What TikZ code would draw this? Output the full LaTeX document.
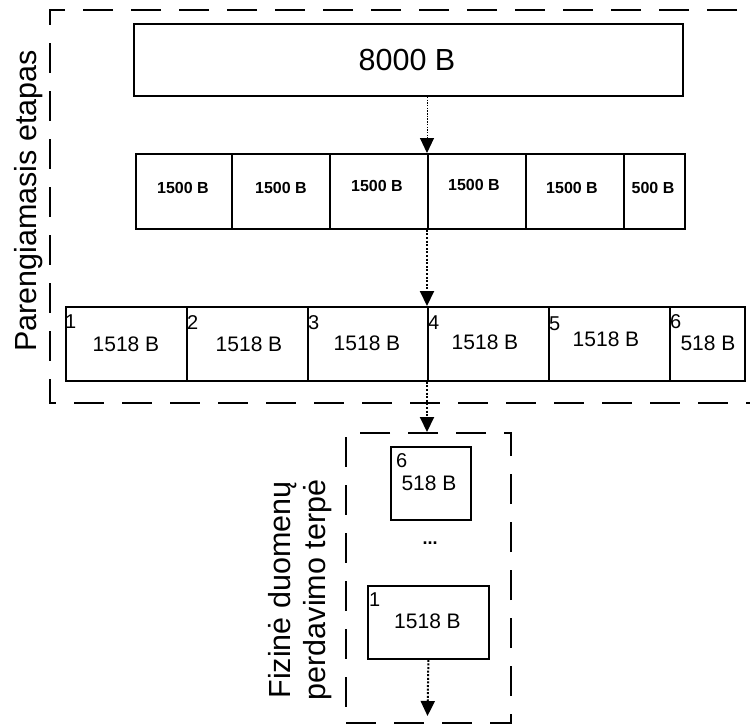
\documentclass[tikz,border=0pt]{standalone}
\usepackage{fontspec}
\setmainfont{Liberation Sans}
\usetikzlibrary{arrows.meta}
\begin{document}
\begin{tikzpicture}[x=1pt,y=-1pt,
  cell/.style={draw=black, line width=1.8pt, inner sep=0pt, anchor=north west},
  txt/.style={inner sep=0pt},
  bigfont/.style={font=\fontsize{30.5}{36}\selectfont},
  midfont/.style={font=\fontsize{21}{25}\selectfont},
  boldfont/.style={font=\fontsize{16}{19}\selectfont\bfseries},
  numfont/.style={font=\fontsize{20}{24}\selectfont, inner sep=0pt, anchor=base west},
  dashbox/.style={draw=black, line width=2.3pt, dash pattern=on 30pt off 18pt},
  thinarrow/.style={draw=black, line width=1pt, dash pattern=on 1.5pt off 1.2pt, -{Triangle[length=15pt,width=14pt]}},
  thickarrow/.style={draw=black, line width=2pt, dash pattern=on 2pt off 1.6pt, -{Triangle[length=15pt,width=14pt]}}
]
\useasboundingbox (0,0) rectangle (750,724);

% outer dashed frame (preparation stage)
\coordinate (ftr) at (770,10);
\coordinate (ftl) at (50,10);
\coordinate (fbl) at (50,403);
\coordinate (fbr) at (770,403);
\draw[dashbox, dash phase=15pt] (ftr) -- (ftl) -- (fbl) -- (fbr);

\node[txt, bigfont, rotate=90, anchor=base] (lprep) at (36,201) {Parengiamasis etapas};

% 8000 B block
\node[cell, minimum width=549pt, minimum height=72pt] (n8000) at (133,23) {};
\node[txt, bigfont] (t8000) at (407,60) {8000 B};

% row 2
\node[cell, minimum width=96pt, minimum height=75pt] (r2c1) at (135,153) {};
\node[cell, minimum width=98pt, minimum height=75pt] (r2c2) at (231,153) {};
\node[cell, minimum width=98pt, minimum height=75pt] (r2c3) at (329,153) {};
\node[cell, minimum width=98pt, minimum height=75pt] (r2c4) at (427,153) {};
\node[cell, minimum width=98pt, minimum height=75pt] (r2c5) at (525,153) {};
\node[cell, minimum width=61pt, minimum height=75pt] (r2c6) at (623,153) {};
\node[txt, boldfont] (t2c1) at (183,188) {1500 B};
\node[txt, boldfont] (t2c2) at (281,188) {1500 B};
\node[txt, boldfont] (t2c3) at (377,186) {1500 B};
\node[txt, boldfont] (t2c4) at (474,185) {1500 B};
\node[txt, boldfont] (t2c5) at (572,188) {1500 B};
\node[txt, boldfont] (t2c6) at (653,188) {500 B};

% row 3
\node[cell, minimum width=121pt, minimum height=74pt] (r3c1) at (65,306) {};
\node[cell, minimum width=121pt, minimum height=74pt] (r3c2) at (186,306) {};
\node[cell, minimum width=120pt, minimum height=74pt] (r3c3) at (307,306) {};
\node[cell, minimum width=121pt, minimum height=74pt] (r3c4) at (427,306) {};
\node[cell, minimum width=121pt, minimum height=74pt] (r3c5) at (548,306) {};
\node[cell, minimum width=75pt, minimum height=74pt] (r3c6) at (669,306) {};
\node[txt, midfont] (t3c1) at (126,344) {1518 B};
\node[txt, midfont] (t3c2) at (249,344) {1518 B};
\node[txt, midfont] (t3c3) at (367,343) {1518 B};
\node[txt, midfont] (t3c4) at (485,342) {1518 B};
\node[txt, midfont] (t3c5) at (606,339) {1518 B};
\node[txt, midfont] (t3c6) at (708,343) {518 B};
\node[numfont] (n3c1) at (65,328) {1};
\node[numfont] (n3c2) at (187,329) {2};
\node[numfont] (n3c3) at (308,329) {3};
\node[numfont] (n3c4) at (428,329) {4};
\node[numfont] (n3c5) at (549,330) {5};
\node[numfont] (n3c6) at (670,328) {6};

% lower dashed frame (physical medium)
\node[cell, dashbox, minimum width=165pt, minimum height=290pt] (medium) at (345,432) {};
\node[txt, bigfont, rotate=90, anchor=base] (lmed1) at (290,590) {Fizinė duomenų};
\node[txt, bigfont, rotate=90, anchor=base] (lmed2) at (325,590) {perdavimo terpė};

\node[cell, minimum width=80pt, minimum height=73pt] (p6) at (390,446) {};
\node[numfont] (np6) at (396,467) {6};
\node[txt, midfont] (tp6) at (429,483) {518 B};
\node[txt, font=\fontsize{18}{21}\selectfont\bfseries] (dots) at (430,543) {...};
\node[cell, minimum width=121pt, minimum height=73pt] (p1) at (367,585) {};
\node[numfont] (np1) at (369,606) {1};
\node[txt, midfont] (tp1) at (427.5,621) {1518 B};
\coordinate (endarrow) at (427.5,716);

% arrows
\draw[thinarrow] (r2c4.north west |- n8000.south) -- (r2c4.north west);
\draw[thickarrow] (r2c4.south west) -- (r3c4.north west);
\draw[thickarrow] (r3c4.south west) -- (r3c4.south west |- medium.north);
\draw[thickarrow] (p1.south) -- (endarrow);
\end{tikzpicture}
\end{document}
